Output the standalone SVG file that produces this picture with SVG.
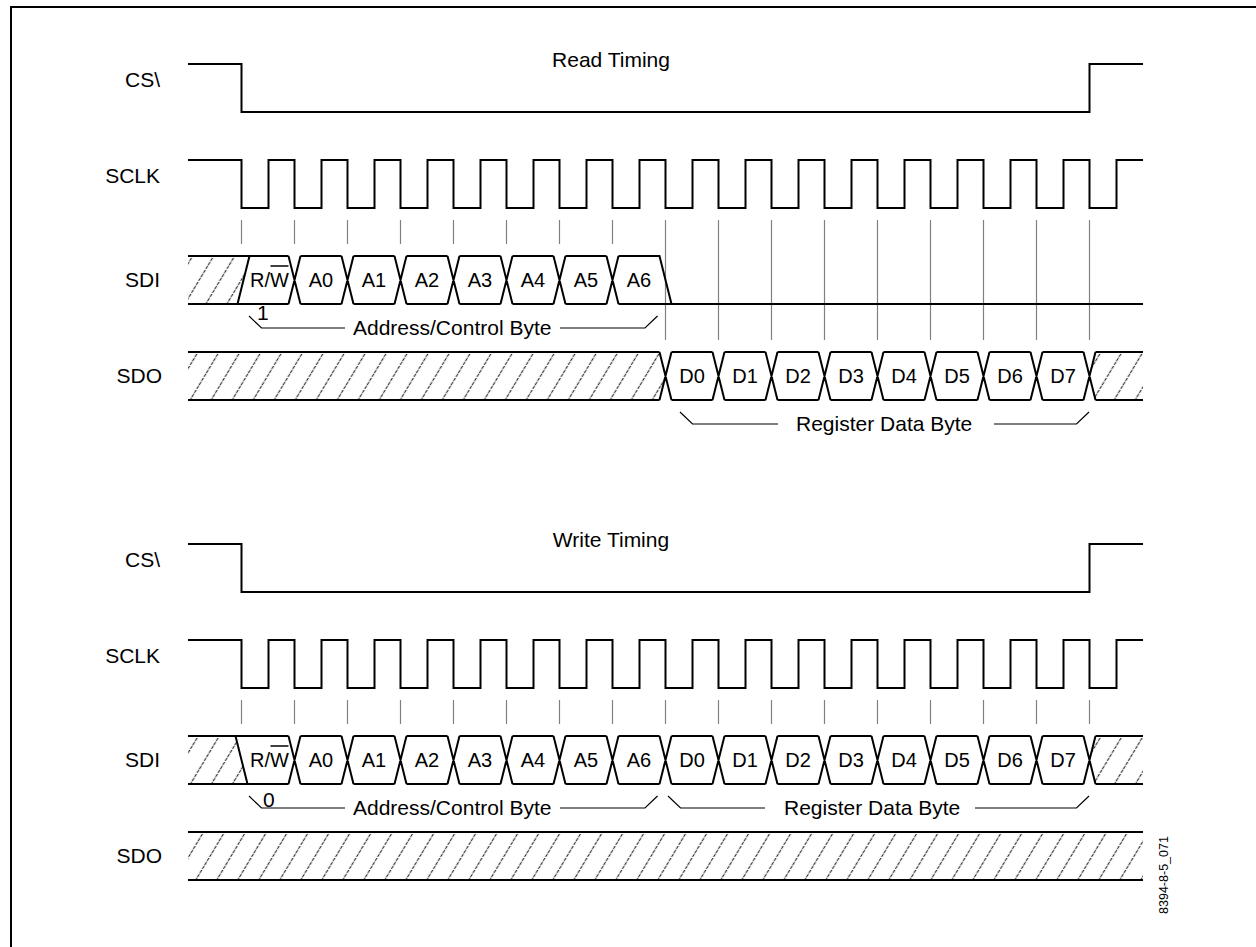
<svg xmlns="http://www.w3.org/2000/svg" width="1256" height="947" viewBox="0 0 1256 947">
<style>
text{font-family:"Liberation Sans",Arial,sans-serif;fill:#000}
.lbl{font-size:21px;text-anchor:end}
.cell{font-size:20px;text-anchor:middle}
.brk{font-size:21px}
.ttl{font-size:21px;text-anchor:middle}
.sig{fill:none;stroke:#000;stroke-width:2;stroke-linejoin:miter}
.tick{stroke:#808080;stroke-width:1.2}
.br{fill:none;stroke:#000;stroke-width:1.2}
.hat{fill:url(#hatch);stroke:none}
</style>
<defs>
<pattern id="hatch" patternUnits="userSpaceOnUse" width="21" height="48" patternTransform="skewX(-31)">
<line x1="10.5" y1="-2" x2="10.5" y2="50" stroke="#333" stroke-width="1.4" stroke-dasharray="3 1"/>
</pattern>
</defs>
<rect width="1256" height="947" fill="#fff"/>
<path d="M11,947 V7 H1256" fill="none" stroke="#000" stroke-width="2"/>

<g id="read">
<text class="ttl" x="611" y="67">Read Timing</text>
<g id="read-cs"><text class="lbl" x="160" y="87">CS\</text>
<path class="sig" d="M188,64 H241.5 V112 H1089.5 V64 H1143"/></g>
<g id="read-sclk"><text class="lbl" x="160" y="183">SCLK</text>
<path class="sig" d="M188,160 H241.5 V208 H268.5 V160 H294.5 V208 H321.5 V160 H347.5 V208 H374.5 V160 H400.5 V208 H427.5 V160 H453.5 V208 H480.5 V160 H506.5 V208 H533.5 V160 H559.5 V208 H586.5 V160 H612.5 V208 H639.5 V160 H665.5 V208 H692.5 V160 H718.5 V208 H745.5 V160 H771.5 V208 H798.5 V160 H824.5 V208 H851.5 V160 H877.5 V208 H904.5 V160 H930.5 V208 H957.5 V160 H983.5 V208 H1010.5 V160 H1036.5 V208 H1063.5 V160 H1089.5 V208 H1116.5 V160 H1143"/></g>
<g id="read-ticks">
<path class="tick" d="M241.5,220V244M294.5,220V244M347.5,220V244M400.5,220V244M453.5,220V244M506.5,220V244M559.5,220V244M612.5,220V244M665.5,220V340M718.5,220V340M771.5,220V340M824.5,220V340M877.5,220V340M930.5,220V340M983.5,220V340M1036.5,220V340M1089.5,220V340"/>
</g>
<g id="read-sdi"><text class="lbl" x="160" y="287">SDI</text>
<polygon class="hat" points="188,256 249.5,256 237.5,304 188,304"/>
<path class="sig" d="M188,256H288.5M188,304H288.5M237.5,304L249.5,256
M288.5,256L300.5,304M288.5,304L300.5,256
M300.5,256H341.5M300.5,304H341.5M341.5,256L353.5,304M341.5,304L353.5,256
M353.5,256H394.5M353.5,304H394.5M394.5,256L406.5,304M394.5,304L406.5,256
M406.5,256H447.5M406.5,304H447.5M447.5,256L459.5,304M447.5,304L459.5,256
M459.5,256H500.5M459.5,304H500.5M500.5,256L512.5,304M500.5,304L512.5,256
M512.5,256H553.5M512.5,304H553.5M553.5,256L565.5,304M553.5,304L565.5,256
M565.5,256H606.5M565.5,304H606.5M606.5,256L618.5,304M606.5,304L618.5,256
M618.5,256H659.5L671.5,304M618.5,304H1143"/>
<text class="cell" x="250" y="287" style="text-anchor:start">R/W</text>
<line x1="270.5" y1="266" x2="288.5" y2="266" stroke="#000" stroke-width="1.5"/>
<text class="cell" x="321" y="287">A0</text><text class="cell" x="374" y="287">A1</text><text class="cell" x="427" y="287">A2</text><text class="cell" x="480" y="287">A3</text><text class="cell" x="533" y="287">A4</text><text class="cell" x="586" y="287">A5</text><text class="cell" x="639" y="287">A6</text>
</g>
<g id="read-sdo"><text class="lbl" x="162" y="383">SDO</text>
<polygon class="hat" points="188,352 659.5,352 665.5,376 659.5,400 188,400"/>
<polygon class="hat" points="1143,352 1095.5,352 1089.5,376 1095.5,400 1143,400"/>
<path class="sig" d="M188,352H659.5M188,400H659.5
M659.5,352L671.5,400M659.5,400L671.5,352
M671.5,352H712.5M671.5,400H712.5M712.5,352L724.5,400M712.5,400L724.5,352
M724.5,352H765.5M724.5,400H765.5M765.5,352L777.5,400M765.5,400L777.5,352
M777.5,352H818.5M777.5,400H818.5M818.5,352L830.5,400M818.5,400L830.5,352
M830.5,352H871.5M830.5,400H871.5M871.5,352L883.5,400M871.5,400L883.5,352
M883.5,352H924.5M883.5,400H924.5M924.5,352L936.5,400M924.5,400L936.5,352
M936.5,352H977.5M936.5,400H977.5M977.5,352L989.5,400M977.5,400L989.5,352
M989.5,352H1030.5M989.5,400H1030.5M1030.5,352L1042.5,400M1030.5,400L1042.5,352
M1042.5,352H1083.5M1042.5,400H1083.5M1083.5,352L1095.5,400M1083.5,400L1095.5,352
M1095.5,352H1143M1095.5,400H1143"/>
<text class="cell" x="692" y="383">D0</text><text class="cell" x="745" y="383">D1</text><text class="cell" x="798" y="383">D2</text><text class="cell" x="851" y="383">D3</text><text class="cell" x="904" y="383">D4</text><text class="cell" x="957" y="383">D5</text><text class="cell" x="1010" y="383">D6</text><text class="cell" x="1063" y="383">D7</text>
</g>
<g id="read-brackets">
<path class="br" d="M249,316L261.5,328H345M560,328H645L657.5,316"/>
<text class="brk" x="257" y="320">1</text>
<text class="brk" x="353" y="335">Address/Control Byte</text>
<path class="br" d="M680,412L692.5,424H778M994,424H1076.5L1089,412"/>
<text class="brk" x="796" y="431">Register Data Byte</text>
</g>
</g>

<g id="write">
<text class="ttl" x="611" y="547">Write Timing</text>
<g id="write-cs"><text class="lbl" x="160" y="567">CS\</text>
<path class="sig" d="M188,544 H241.5 V592 H1089.5 V544 H1143"/></g>
<g id="write-sclk"><text class="lbl" x="160" y="663">SCLK</text>
<path class="sig" d="M188,640 H241.5 V688 H268.5 V640 H294.5 V688 H321.5 V640 H347.5 V688 H374.5 V640 H400.5 V688 H427.5 V640 H453.5 V688 H480.5 V640 H506.5 V688 H533.5 V640 H559.5 V688 H586.5 V640 H612.5 V688 H639.5 V640 H665.5 V688 H692.5 V640 H718.5 V688 H745.5 V640 H771.5 V688 H798.5 V640 H824.5 V688 H851.5 V640 H877.5 V688 H904.5 V640 H930.5 V688 H957.5 V640 H983.5 V688 H1010.5 V640 H1036.5 V688 H1063.5 V640 H1089.5 V688 H1116.5 V640 H1143"/></g>
<g id="write-ticks">
<path class="tick" d="M241.5,700V724M294.5,700V724M347.5,700V724M400.5,700V724M453.5,700V724M506.5,700V724M559.5,700V724M612.5,700V724M665.5,700V724M718.5,700V724M771.5,700V724M824.5,700V724M877.5,700V724M930.5,700V724M983.5,700V724M1036.5,700V724M1089.5,700V724"/>
</g>
<g id="write-sdi"><text class="lbl" x="160" y="767">SDI</text>
<polygon class="hat" points="188,736 235.5,736 247.5,784 188,784"/>
<polygon class="hat" points="1143,736 1095.5,736 1089.5,760 1095.5,784 1143,784"/>
<path class="sig" d="M188,736H288.5M188,784H288.5M235.5,736L247.5,784
M288.5,736L300.5,784M288.5,784L300.5,736
M300.5,736H341.5M300.5,784H341.5M341.5,736L353.5,784M341.5,784L353.5,736
M353.5,736H394.5M353.5,784H394.5M394.5,736L406.5,784M394.5,784L406.5,736
M406.5,736H447.5M406.5,784H447.5M447.5,736L459.5,784M447.5,784L459.5,736
M459.5,736H500.5M459.5,784H500.5M500.5,736L512.5,784M500.5,784L512.5,736
M512.5,736H553.5M512.5,784H553.5M553.5,736L565.5,784M553.5,784L565.5,736
M565.5,736H606.5M565.5,784H606.5M606.5,736L618.5,784M606.5,784L618.5,736
M618.5,736H659.5M618.5,784H659.5M659.5,736L671.5,784M659.5,784L671.5,736
M671.5,736H712.5M671.5,784H712.5M712.5,736L724.5,784M712.5,784L724.5,736
M724.5,736H765.5M724.5,784H765.5M765.5,736L777.5,784M765.5,784L777.5,736
M777.5,736H818.5M777.5,784H818.5M818.5,736L830.5,784M818.5,784L830.5,736
M830.5,736H871.5M830.5,784H871.5M871.5,736L883.5,784M871.5,784L883.5,736
M883.5,736H924.5M883.5,784H924.5M924.5,736L936.5,784M924.5,784L936.5,736
M936.5,736H977.5M936.5,784H977.5M977.5,736L989.5,784M977.5,784L989.5,736
M989.5,736H1030.5M989.5,784H1030.5M1030.5,736L1042.5,784M1030.5,784L1042.5,736
M1042.5,736H1083.5M1042.5,784H1083.5M1083.5,736L1095.5,784M1083.5,784L1095.5,736
M1095.5,736H1143M1095.5,784H1143"/>
<text class="cell" x="250" y="767" style="text-anchor:start">R/W</text>
<line x1="270.5" y1="746" x2="288.5" y2="746" stroke="#000" stroke-width="1.5"/>
<text class="cell" x="321" y="767">A0</text><text class="cell" x="374" y="767">A1</text><text class="cell" x="427" y="767">A2</text><text class="cell" x="480" y="767">A3</text><text class="cell" x="533" y="767">A4</text><text class="cell" x="586" y="767">A5</text><text class="cell" x="639" y="767">A6</text>
<text class="cell" x="692" y="767">D0</text><text class="cell" x="745" y="767">D1</text><text class="cell" x="798" y="767">D2</text><text class="cell" x="851" y="767">D3</text><text class="cell" x="904" y="767">D4</text><text class="cell" x="957" y="767">D5</text><text class="cell" x="1010" y="767">D6</text><text class="cell" x="1063" y="767">D7</text>
</g>
<g id="write-sdo"><text class="lbl" x="162" y="863">SDO</text>
<rect class="hat" x="188" y="832" width="955" height="48"/>
<path class="sig" d="M188,832H1143M188,880H1143"/>
</g>
<g id="write-brackets">
<path class="br" d="M249,796L261.5,808H345M560,808H645L657.5,796M668,796L680.5,808H765M975,808H1076.5L1089,796"/>
<text class="brk" x="263" y="807">0</text>
<text class="brk" x="353" y="815">Address/Control Byte</text>
<text class="brk" x="784" y="815">Register Data Byte</text>
</g>
</g>
<text x="1168" y="875" transform="rotate(-90 1168 875)" style="font-size:12.5px;text-anchor:middle">8394-8-5_071</text>
</svg>
